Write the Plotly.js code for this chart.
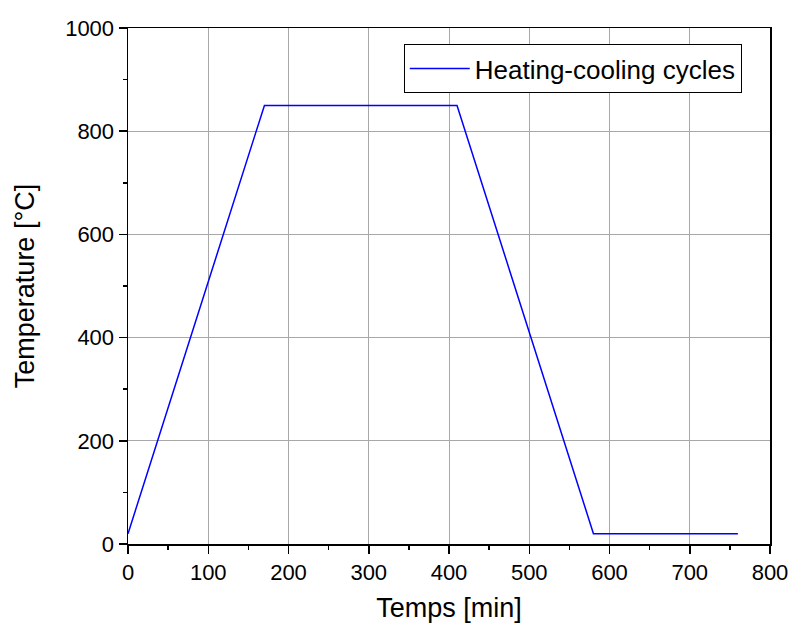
<!DOCTYPE html>
<html>
<head>
<meta charset="utf-8">
<script src="https://cdn.plot.ly/plotly-3.0.1.min.js"></script>
<style>
  html, body { margin: 0; padding: 0; background: #fff; }
  #chart { width: 792px; height: 624px; }
</style>
</head>
<body>
<div id="chart"></div>
<script>
// Furnace programme: ramp up, hold, ramp down, hold at ambient
const timeMin = [0, 170, 410, 580, 760];
const tempC = [20, 850, 850, 20, 20];
const seriesName = 'Heating-cooling cycles';
const xTickVals = [0, 100, 200, 300, 400, 500, 600, 700, 800];
const yTickVals = [0, 200, 400, 600, 800, 1000];

const font = '"Liberation Sans", Arial, sans-serif';

const trace = {
  x: timeMin,
  y: tempC,
  type: 'scatter',
  mode: 'lines',
  name: seriesName,
  line: { color: '#0000ff', width: 1.5 },
  showlegend: true
};

const axisCommon = {
  showline: true,
  linecolor: '#000',
  linewidth: 1.5,
  mirror: true,
  ticks: 'outside',
  ticklen: 8,
  tickwidth: 1.5,
  tickcolor: '#000',
  showgrid: true,
  gridcolor: '#a8a8a8',
  gridwidth: 1,
  zeroline: false,
  tickfont: { family: font, size: 22, color: '#000' }
};

const layout = {
  width: 792,
  height: 624,
  margin: { l: 128, r: 22, t: 28, b: 80 },
  paper_bgcolor: '#fff',
  plot_bgcolor: '#fff',
  font: { family: font, color: '#000' },
  xaxis: Object.assign({}, axisCommon, {
    range: [0, 800],
    tickvals: xTickVals,
    minor: { ticks: 'outside', ticklen: 4, tickwidth: 1.5, tickcolor: '#000', dtick: 50, showgrid: false },
    title: { text: 'Temps [min]', font: { family: font, size: 27, color: '#000' }, standoff: 14 }
  }),
  yaxis: Object.assign({}, axisCommon, {
    range: [0, 1000],
    tickvals: yTickVals,
    minor: { ticks: 'outside', ticklen: 4, tickwidth: 1.5, tickcolor: '#000', dtick: 100, showgrid: false },
    title: { text: 'Temperature [°C]', font: { family: font, size: 27, color: '#000' }, standoff: 22 }
  }),
  legend: {
    x: 0.956,
    y: 0.969,
    xanchor: 'right',
    yanchor: 'top',
    bgcolor: '#fff',
    bordercolor: '#000',
    borderwidth: 1,
    font: { family: font, size: 26, color: '#000' },
    itemwidth: 60,
    tracegroupgap: 0
  }
};

Plotly.newPlot('chart', [trace], layout, { staticPlot: true, displayModeBar: false });
</script>
</body>
</html>
